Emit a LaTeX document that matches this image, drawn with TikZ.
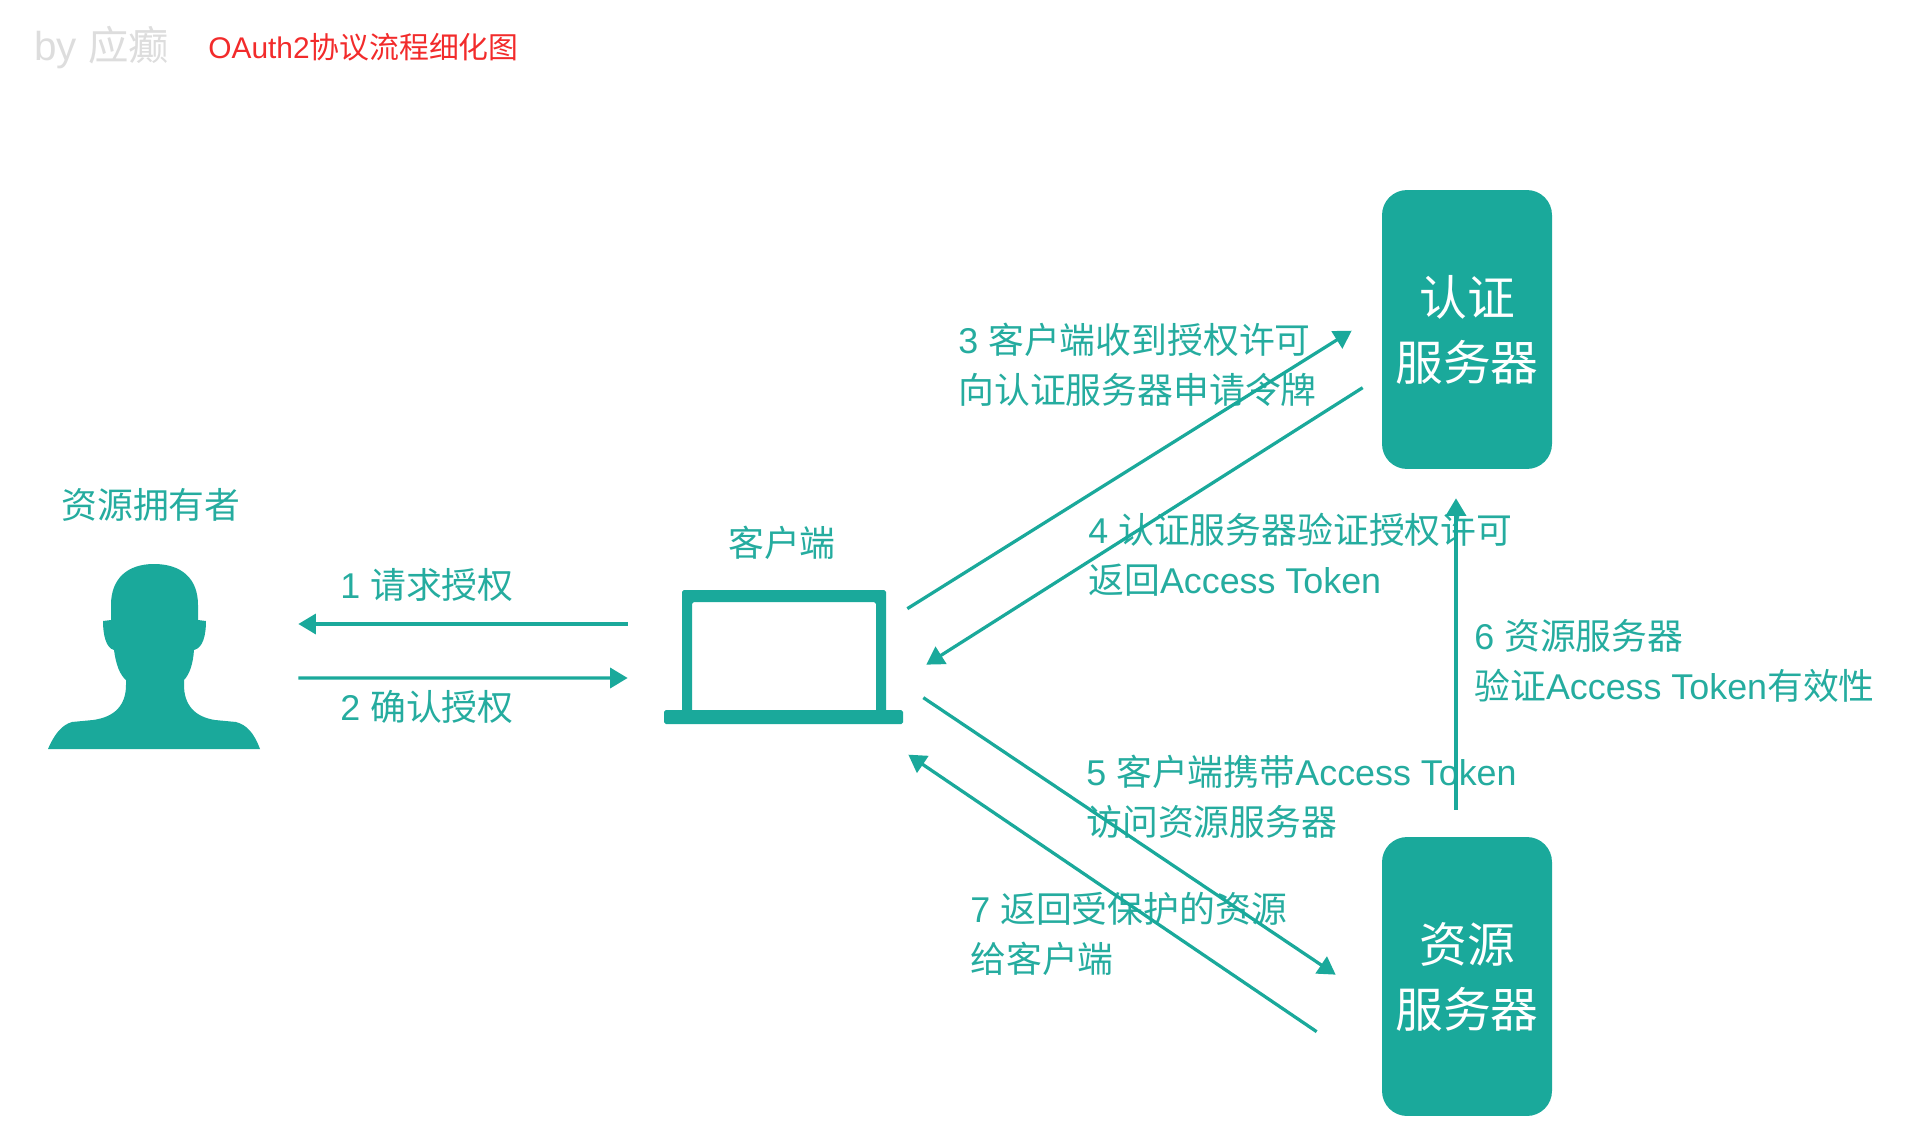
\documentclass[tikz,border=0pt]{standalone}
\usepackage{fontspec}
\setmainfont{Liberation Sans}
\newfontfamily\cjk{Noto Sans CJK SC}
\newcommand{\zh}[1]{{\cjk #1}}
\usetikzlibrary{arrows.meta, positioning}
\definecolor{oauthteal}{HTML}{1AA99B}
\definecolor{lbltext}{HTML}{25AC9F}
\definecolor{bygray}{HTML}{DDDDDD}
\definecolor{titlered}{HTML}{F22B2B}

\begin{document}
\begin{tikzpicture}[
  x=0.02cm, y=-0.02cm,
  srvbox/.style={fill=oauthteal, rounded corners=0.5cm, minimum width=3.4cm, minimum height=5.58cm,
                 inner sep=0pt, align=center, text=white, font=\fontsize{27.2}{37}\selectfont},
  slot/.style={inner sep=0pt, minimum width=#1},
  lbl/.style={text=lbltext, anchor=west, align=left, inner sep=0pt, font=\fontsize{20.4}{28.5}\selectfont},
  arr/.style={-{Triangle[length=3.5mm, width=4mm]}, line width=0.065cm, color=oauthteal},
]
\useasboundingbox (0,0) rectangle (1924,1142);

% Title line
\node[anchor=west, inner sep=0pt, text=bygray, font=\fontsize{23}{26}\selectfont] (byline) at (34,48) {by \zh{应癫}};
\node[anchor=west, inner sep=0pt, text=titlered, font=\fontsize{17}{20}\selectfont] (title) at (208,47) {OAuth2\zh{协议流程细化图}};

% Resource owner
\node[slot=4.24cm, minimum height=3.7cm] (owner) at (154,656.5) {};
\fill[oauthteal] (48,749) .. controls (55,733) and (62,725) .. (72,722) -- (93,720)
  .. controls (115,717) and (126,705) .. (126,685) -- (126,680)
  .. controls (120,675) and (116,665) .. (114,650)
  .. controls (106,648) and (103,635) .. (103,621) -- (111,620) -- (111,605)
  .. controls (111,578) and (128,564) .. (154,564)
  .. controls (181,564) and (198,578) .. (198,605) -- (198,620) -- (206,621)
  .. controls (206,635) and (203,648) .. (194,650)
  .. controls (193,665) and (189,675) .. (184,680) -- (184,685)
  .. controls (184,705) and (195,717) .. (215,720) -- (236,722)
  .. controls (247,725) and (254,733) .. (260,749) -- cycle;
\node[lbl, anchor=center] (ownerlbl) at (151,505) {\zh{资源拥有者}};

% Client
\node[slot=4.78cm, minimum height=2.68cm] (client) at (783.5,657) {};
\fill[oauthteal, even odd rule, rounded corners=1pt] (682,590) rectangle (886,712) (692,602) rectangle (876,712);
\fill[oauthteal, rounded corners=1pt] (664,710) rectangle (903,724);
\node[lbl, anchor=center] (clientlbl) at (782,543) {\zh{客户端}};

% Servers
\node[srvbox] (authsrv) at (1467,329.5) {\zh{认证}\\\zh{服务器}};
\node[srvbox] (ressrv) at (1467,976.5) {\zh{资源}\\\zh{服务器}};

% Labels
\node[lbl] (l1) at (340,585) {1 \zh{请求授权}};
\node[lbl] (l2) at (340,707) {2 \zh{确认授权}};
\node[lbl] (l3) at (958,365) {3 \zh{客户端收到授权许可}\\\zh{向认证服务器申请令牌}};
\node[lbl] (l4) at (1088,554.5) {4 \zh{认证服务器验证授权许可}\\\zh{返回}Access Token};
\node[lbl] (l5) at (1086,796.5) {5 \zh{客户端携带}Access Token\\\zh{访问资源服务器}};
\node[lbl] (l6) at (1474,660.5) {6 \zh{资源服务器}\\\zh{验证}Access Token\zh{有效性}};
\node[lbl] (l7) at (970,934) {7 \zh{返回受保护的资源}\\\zh{给客户端}};

% Arrows
\draw[arr] ([shift={(-36,-33)}]client.west) -- ([shift={(38,-32.5)}]owner.east);
\draw[arr] ([shift={(38,21.5)}]owner.east) -- ([shift={(-36,21)}]client.west);
\draw[arr] ([shift={(4,19)}]client.north east) -- ([shift={(-30,141)}]authsrv.north west);
\draw[arr] ([shift={(-19,198)}]authsrv.north west) -- ([shift={(23,75)}]client.north east);
\draw[arr] ([shift={(20,108)}]client.north east) -- ([shift={(-46,138)}]ressrv.north west);
\draw[arr] ([shift={(-11,-27)}]ressrv.north) -- ([shift={(-11,29)}]authsrv.south);
\draw[arr] ([shift={(-65,195)}]ressrv.north west) -- ([shift={(5,165)}]client.north east);

\end{tikzpicture}
\end{document}
